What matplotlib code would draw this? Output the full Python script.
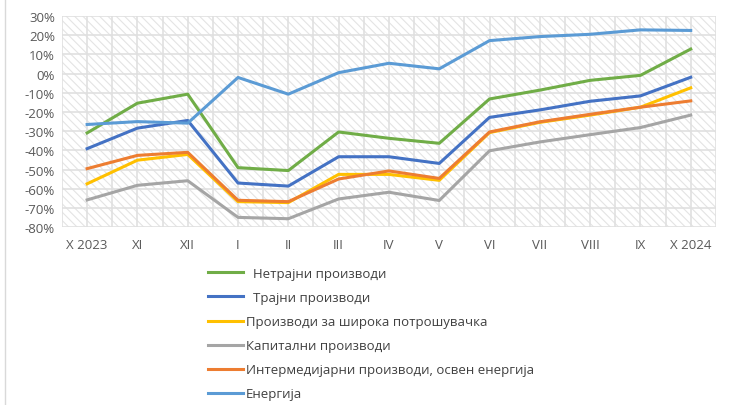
import numpy as np
import matplotlib.pyplot as plt
from matplotlib.patches import Rectangle

months = ['X 2023', 'XI', 'XII', 'I', 'II', 'III', 'IV', 'V', 'VI', 'VII', 'VIII', 'IX', 'X 2024']

netrajni = [-30.9, -15.4, -10.7, -49.0, -50.5, -30.4, -33.7, -36.3, -13.2, -8.6, -3.5, -0.9, 12.8]
trajni = [-39.1, -28.4, -24.4, -57.0, -58.6, -43.3, -43.3, -46.8, -22.8, -18.9, -14.4, -11.6, -1.9]
shiroka = [-57.4, -45.1, -42.1, -66.7, -67.2, -52.5, -52.5, -55.6, -30.7, -25.4, -21.6, -17.5, -7.4]
kapitalni = [-65.8, -58.2, -55.8, -74.9, -75.6, -65.3, -61.8, -66.1, -40.2, -35.6, -31.8, -28.1, -21.6]
intermed = [-49.5, -42.6, -41.0, -66.0, -66.7, -54.9, -50.7, -54.6, -30.4, -25.1, -21.2, -17.5, -14.2]
energija = [-26.5, -25.0, -25.8, -2.0, -10.7, 0.5, 5.4, 2.5, 17.2, 19.3, 20.5, 22.8, 22.5]

series = [
    ('  Нетрајни производи', netrajni, '#70ad47'),
    ('  Трајни производи', trajni, '#4472c4'),
    ('Производи за широка потрошувачка', shiroka, '#ffc000'),
    ('Капитални производи', kapitalni, '#a5a5a5'),
    ('Интермедијарни производи, освен енергија', intermed, '#ed7d31'),
    ('Енергија', energija, '#5b9bd5'),
]

plt.rcParams['font.family'] = ['Open Sans', 'DejaVu Sans']
plt.rcParams['hatch.linewidth'] = 0.8

fig = plt.figure(figsize=(7.29, 4.06), dpi=100)
ax = fig.add_axes([0.085, 0.438, 0.897, 0.52])

x = np.arange(len(months))
ax.set_xlim(-0.5, len(months) - 0.5)
ax.set_ylim(-80, 30)

# hatched plot area
ax.add_patch(Rectangle((0, 0), 1, 1, transform=ax.transAxes, facecolor='white',
                       edgecolor='#e4e4e4', hatch='\\\\\\\\', linewidth=0, zorder=0))

# grid: horizontal at 10%, vertical at categories and between them
for yv in np.arange(-80, 31, 10):
    ax.axhline(yv, color='#e0e0e0', lw=1.2, zorder=1)
for xv in np.arange(-0.5, len(months), 0.5):
    ax.axvline(xv, color='#e0e0e0', lw=1.2, zorder=1)

for label, vals, color in series:
    ax.plot(x, vals, color=color, lw=2.2, label=label, zorder=3)

ax.set_xticks(x)
ax.set_xticklabels(months)
ax.set_yticks(np.arange(-80, 31, 10))
ax.set_yticklabels([f'{v}%' for v in range(-80, 31, 10)])
ax.tick_params(length=0, colors='#595959', labelsize=9.5)
ax.tick_params(axis='x', pad=8)
ax.tick_params(axis='y', pad=5)
for s in ax.spines.values():
    s.set_visible(False)

handles, labels = ax.get_legend_handles_labels()
fig.legend(handles, labels, loc='upper left', bbox_to_anchor=(0.285, 0.34),
           frameon=False, fontsize=9.5, handlelength=2.7, handletextpad=0.2,
           labelspacing=0.84, borderpad=0, borderaxespad=0, labelcolor='#404040')

fig.add_artist(plt.Line2D([0.007, 0.007], [0, 1], color='#d9d9d9', lw=1))

fig.savefig('out.png', dpi=100)
